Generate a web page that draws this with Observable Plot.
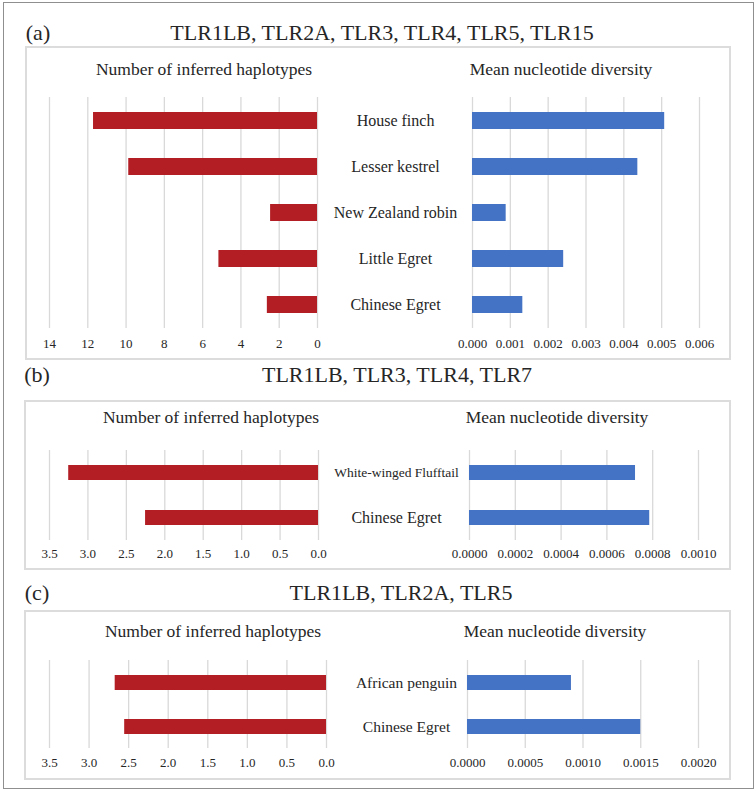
<!DOCTYPE html>
<html>
<head>
<meta charset="utf-8">
<script src="https://cdn.jsdelivr.net/npm/d3@7"></script>
<script src="https://cdn.jsdelivr.net/npm/@observablehq/plot@0.6"></script>
<style>
  html, body { margin: 0; padding: 0; background: #fff; }
  #page { position: relative; width: 756px; height: 792px; font-family: "Liberation Serif", "Times New Roman", serif; color: #262626; overflow: hidden; }
  .txt { position: absolute; white-space: nowrap; transform: translate(-50%, -50%); line-height: 1; }
  .box { position: absolute; border: 2px solid #dcdcdc; box-sizing: border-box; }
  .outer { position: absolute; border: 1px solid #8f8f8f; box-sizing: border-box; }
  svg { overflow: visible; }
</style>
</head>
<body>
<div id="page"></div>
<script>
// ---------- DATA ----------
const panelATitle = "TLR1LB, TLR2A, TLR3, TLR4, TLR5, TLR15";
const panelASpecies = ["House finch", "Lesser kestrel", "New Zealand robin", "Little Egret", "Chinese Egret"];
const panelAHaplotypes = [11.7, 9.86, 2.45, 5.15, 2.62];
const panelADiversity = [0.00508, 0.00437, 0.00089, 0.00241, 0.00133];
const panelAHapTicks = [0, 2, 4, 6, 8, 10, 12, 14];
const panelADivTicks = [0, 0.001, 0.002, 0.003, 0.004, 0.005, 0.006];

const panelBTitle = "TLR1LB, TLR3, TLR4, TLR7";
const panelBSpecies = ["White-winged Flufftail", "Chinese Egret"];
const panelBHaplotypes = [3.25, 2.25];
const panelBDiversity = [0.000725, 0.000787];
const panelBHapTicks = [0, 0.5, 1.0, 1.5, 2.0, 2.5, 3.0, 3.5];
const panelBDivTicks = [0, 0.0002, 0.0004, 0.0006, 0.0008, 0.0010];

const panelCTitle = "TLR1LB, TLR2A, TLR5";
const panelCSpecies = ["African penguin", "Chinese Egret"];
const panelCHaplotypes = [2.67, 2.55];
const panelCDiversity = [0.0009, 0.0015];
const panelCHapTicks = [0, 0.5, 1.0, 1.5, 2.0, 2.5, 3.0, 3.5];
const panelCDivTicks = [0, 0.0005, 0.0010, 0.0015, 0.0020];

const leftSubtitle = "Number of inferred haplotypes";
const rightSubtitle = "Mean nucleotide diversity";

// ---------- STYLE ----------
const RED = "#b21e24";
const BLUE = "#4472c4";
const GRID = "#d9d9d9";
const INK = "#262626";
const FONT = '"Liberation Serif", "Times New Roman", serif';

const page = document.getElementById("page");

function addDiv(cls, text, css) {
  const d = document.createElement("div");
  d.className = cls;
  if (text != null) d.textContent = text;
  Object.assign(d.style, css);
  page.appendChild(d);
  return d;
}

function place(svg, left, top) {
  svg.style.position = "absolute";
  svg.style.left = left + "px";
  svg.style.top = top + "px";
  page.appendChild(svg);
}

function hapPlot(species, values, ticks, fmt, o) {
  const data = species.map((s, i) => ({name: s, v: values[i]}));
  return Plot.plot({
    width: 340,
    height: o.frameH + 30,
    marginLeft: 49,
    marginRight: o.mr,
    marginTop: 0,
    marginBottom: 30,
    style: {fontFamily: FONT, fontSize: "13px", color: INK, background: "transparent"},
    x: {domain: [0, d3.max(ticks)], reverse: true, axis: null},
    y: {domain: species, paddingInner: o.pi, paddingOuter: o.pi / 2, axis: null},
    marks: [
      Plot.gridX(ticks, {stroke: GRID, strokeOpacity: 1, strokeWidth: 1.3}),
      Plot.barX(data, {x: "v", y: "name", fill: RED}),
      Plot.axisX(ticks, {tickSize: 0, tickPadding: o.tp, tickFormat: fmt, fill: INK, fontSize: 13, label: null})
    ]
  });
}

function divPlot(species, values, ticks, fmt, o) {
  const data = species.map((s, i) => ({name: s, v: values[i]}));
  return Plot.plot({
    width: 390,
    height: o.frameH + 30,
    marginLeft: o.ml,
    marginRight: o.mr,
    marginTop: 0,
    marginBottom: 30,
    style: {fontFamily: FONT, fontSize: "13px", color: INK, background: "transparent"},
    x: {domain: [0, d3.max(ticks)], axis: null},
    y: {domain: species, paddingInner: o.pi, paddingOuter: o.pi / 2, axis: null},
    marks: [
      Plot.gridX(ticks, {stroke: GRID, strokeOpacity: 1, strokeWidth: 1.3}),
      Plot.barX(data, {x: "v", y: "name", fill: BLUE}),
      Plot.axisX(ticks, {tickSize: 0, tickPadding: o.tp, tickFormat: fmt, fill: INK, fontSize: 13, label: null}),
      Plot.text(data, {
        y: "name", text: "name", frameAnchor: "left", dx: -o.labelOffset,
        textAnchor: "middle", fill: INK, fontSize: o.labelSize
      })
    ]
  });
}

// outer frame
addDiv("outer", null, {left: "3px", top: "2px", width: "751px", height: "787px"});

// ---------- PANEL (a) ----------
addDiv("txt", "(a)", {left: "38px", top: "33px", fontSize: "22px"});
addDiv("txt", panelATitle, {left: "382px", top: "33px", fontSize: "22px"});
addDiv("box", null, {left: "25px", top: "46px", width: "706px", height: "314px"});
addDiv("txt", leftSubtitle, {left: "204px", top: "70px", fontSize: "17.5px"});
addDiv("txt", rightSubtitle, {left: "561px", top: "70px", fontSize: "17.5px"});
place(hapPlot(panelASpecies, panelAHaplotypes, panelAHapTicks, d3.format(".0f"),
  {frameH: 231, mr: 23, pi: 0.64, tp: 10}), 0, 97);
place(divPlot(panelASpecies, panelADiversity, panelADivTicks, d3.format(".3f"),
  {frameH: 231, ml: 132, mr: 31, pi: 0.64, tp: 10, labelOffset: 77, labelSize: 16}), 340, 97);

// ---------- PANEL (b) ----------
addDiv("txt", "(b)", {left: "37px", top: "375px", fontSize: "22px"});
addDiv("txt", panelBTitle, {left: "397px", top: "375px", fontSize: "22px"});
addDiv("box", null, {left: "24px", top: "400px", width: "707px", height: "170px"});
addDiv("txt", leftSubtitle, {left: "211px", top: "418px", fontSize: "17.5px"});
addDiv("txt", rightSubtitle, {left: "557px", top: "418px", fontSize: "17.5px"});
place(hapPlot(panelBSpecies, panelBHaplotypes, panelBHapTicks, d3.format(".1f"),
  {frameH: 90, mr: 22, pi: 0.667, tp: 8}), 0, 450);
place(divPlot(panelBSpecies, panelBDiversity, panelBDivTicks, d3.format(".4f"),
  {frameH: 90, ml: 129, mr: 32, pi: 0.667, tp: 8, labelOffset: 73,
   labelSize: d => d.name.length > 15 ? 13.5 : 16}), 340, 450);

// ---------- PANEL (c) ----------
addDiv("txt", "(c)", {left: "37px", top: "593px", fontSize: "22px"});
addDiv("txt", panelCTitle, {left: "401px", top: "593px", fontSize: "22px"});
addDiv("box", null, {left: "24px", top: "610px", width: "707px", height: "170px"});
addDiv("txt", leftSubtitle, {left: "213px", top: "632px", fontSize: "17.5px"});
addDiv("txt", rightSubtitle, {left: "555px", top: "632px", fontSize: "17.5px"});
place(hapPlot(panelCSpecies, panelCHaplotypes, panelCHapTicks, d3.format(".1f"),
  {frameH: 88, mr: 14, pi: 0.66, tp: 9}), 0, 660);
place(divPlot(panelCSpecies, panelCDiversity, panelCDivTicks, d3.format(".4f"),
  {frameH: 88, ml: 127, mr: 32, pi: 0.66, tp: 9, labelOffset: 61, labelSize: 15.5}), 340, 660);
</script>
</body>
</html>
